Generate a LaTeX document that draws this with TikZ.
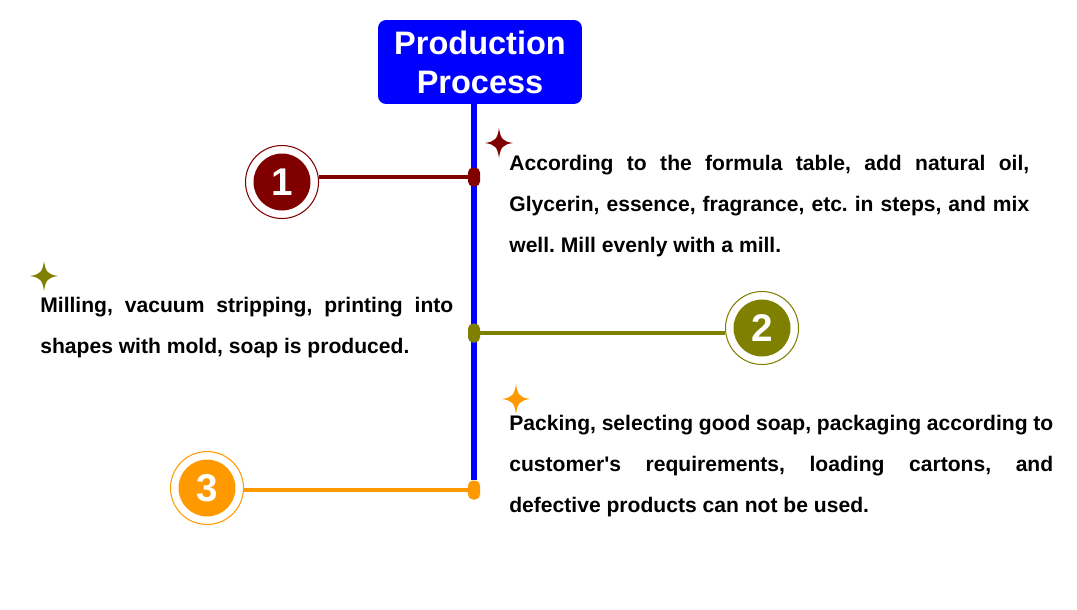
\documentclass[tikz,border=0pt]{standalone}
\usepackage{fontspec}
\setmainfont{Liberation Sans}
\usepackage{tikz}
\usetikzlibrary{positioning, backgrounds}
\definecolor{titleBlue}{HTML}{0000FF}
\definecolor{stepRed}{HTML}{800000}
\definecolor{stepOlive}{HTML}{808000}
\definecolor{stepOrange}{HTML}{FF9900}
\frenchspacing

\begin{document}
\begin{tikzpicture}[x=0.02cm, y=-0.02cm, font=\bfseries, every node/.style={align=center},
  ring/.style={circle, draw=#1, line width=0.6pt, minimum size=1.46cm, inner sep=0pt},
  disc/.style={circle, fill=#1, text=white, minimum size=1.14cm, inner sep=0pt, font=\fontsize{22}{22}\selectfont\bfseries},
  pin/.style={rectangle, rounded corners=0.1cm, fill=#1, minimum width=0.24cm, minimum height=0.38cm, inner sep=0pt},
  link/.style={draw=#1, line width=2pt},
  stepText/.style={anchor=north west, inner sep=0pt, align=justify, font=\fontsize{12}{23.3}\selectfont\bfseries},
  sparkle/.pic={\fill (0,-15) .. controls (1.5,-4) and (4,-1.5) .. (14,0) .. controls (4,1.5) and (1.5,4) .. (0,15) .. controls (-1.5,4) and (-4,1.5) .. (-14,0) .. controls (-4,-1.5) and (-1.5,-4) .. (0,-15) -- cycle;}]
  \useasboundingbox (0,0) rectangle (1077,609);
  % title
  \node[fill=titleBlue, rounded corners=0.16cm, minimum width=4.08cm, minimum height=1.68cm, text=white, font=\fontsize{18.5}{22.2}\selectfont\bfseries] (title) at (480,62) {Production\\Process};
  % markers on the spine
  \node[pin=stepRed] (m1) at (474,177) {};
  \node[pin=stepOlive] (m2) at (474,333) {};
  \node[pin=stepOrange] (m3) at (474,490) {};
  \begin{scope}[on background layer]
    \draw[titleBlue, line width=0.12cm] (m1 |- title.south) -- (m3);
  \end{scope}
  % step 1
  \node[ring=stepRed] (ring1) at (282,182) {};
  \node[disc=stepRed] (num1) at (ring1) {1};
  \draw[link=stepRed] (m1) -- (m1 -| ring1.east);
  \pic[fill=stepRed] at (499,143) {sparkle};
  \node[stepText, text width=10.4cm] (text1) at (509,154.6) {According to the formula table, add natural oil,\linebreak Glycerin, essence, fragrance, etc. in steps, and mix\linebreak well. Mill evenly with a mill.};
  % step 2
  \node[ring=stepOlive] (ring2) at (762,328) {};
  \node[disc=stepOlive] (num2) at (ring2) {2};
  \draw[link=stepOlive] (m2) -- (m2 -| ring2.west);
  \pic[fill=stepOlive] at (44,276) {sparkle};
  \node[stepText, text width=8.26cm] (text2) at (40,296.6) {Milling, vacuum stripping, printing into\linebreak shapes with mold, soap is produced.};
  % step 3
  \node[ring=stepOrange] (ring3) at (207,488) {};
  \node[disc=stepOrange] (num3) at (ring3) {3};
  \draw[link=stepOrange] (m3) -- (m3 -| ring3.east);
  \pic[fill=stepOrange] at (516,399) {sparkle};
  \node[stepText, text width=10.88cm] (text3) at (509,414.6) {Packing, selecting good soap, packaging according to\linebreak customer\textquotesingle s requirements, loading cartons, and\linebreak defective products can not be used.};
\end{tikzpicture}
\end{document}
